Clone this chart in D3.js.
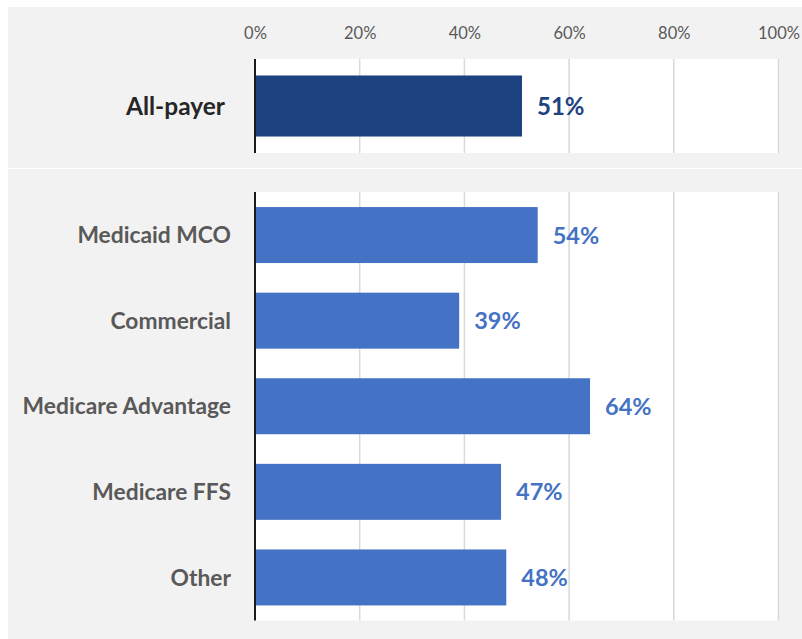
<!DOCTYPE html>
<html><head><meta charset="utf-8">
<script src="https://cdn.jsdelivr.net/npm/d3@7"></script>
<style>
html,body{margin:0;padding:0;background:#fff;}
svg{display:block;font-family:Lato,"Open Sans",sans-serif;}
</style></head>
<body>
<svg id="chart" width="802" height="639"></svg>
<script>
const topCategories = ["All-payer"];
const topValues = [51];
const categories = ["Medicaid MCO","Commercial","Medicare Advantage","Medicare FFS","Other"];
const values = [54,39,64,47,48];
const tickValues = [0,20,40,60,80,100];
const tickLabels = ["0%","20%","40%","60%","80%","100%"];

const svg = d3.select("#chart");
const W = 802, H = 639;

// panels
svg.append("rect").attr("x",8).attr("y",7).attr("width",W-8).attr("height",161).attr("fill","#f2f2f2");
svg.append("rect").attr("x",8).attr("y",169).attr("width",W-8).attr("height",H-169).attr("fill","#f2f2f2");

const x = d3.scaleLinear().domain([0,100]).range([255,778.5]);

function panel(cats, vals, y0, y1, pi, po, barColor, labelColor, catColor, catOffset, catSize, valSize) {
  const g = svg.append("g");
  g.append("rect").attr("x",x(0)).attr("y",y0).attr("width",x(100)-x(0)+1).attr("height",y1-y0).attr("fill","#fff");
  const y = d3.scaleBand().domain(cats).range([y0,y1]).paddingInner(pi).paddingOuter(po);
  g.selectAll("line.grid").data(tickValues.slice(1)).join("line")
    .attr("x1",d=>x(d)).attr("x2",d=>x(d)).attr("y1",y0).attr("y2",y1)
    .attr("stroke","#d9d9d9").attr("stroke-width",1.5);
  g.selectAll("rect.bar").data(vals).join("rect")
    .attr("x",x(0)).attr("y",(d,i)=>y(cats[i])).attr("width",d=>x(d)-x(0)).attr("height",y.bandwidth())
    .attr("fill",barColor);
  g.append("line").attr("x1",x(0)).attr("x2",x(0)).attr("y1",y0).attr("y2",y1)
    .attr("stroke","#1a1a1a").attr("stroke-width",2);
  g.selectAll("text.val").data(vals).join("text")
    .attr("x",d=>x(d)+15).attr("y",(d,i)=>y(cats[i])+y.bandwidth()/2)
    .attr("dy","0.36em").attr("font-size",valSize).attr("font-weight","bold")
    .attr("fill",labelColor).text(d=>d+"%");
  g.selectAll("text.cat").data(cats).join("text")
    .attr("x",x(0)-catOffset).attr("y",d=>y(d)+y.bandwidth()/2)
    .attr("dy","0.36em").attr("text-anchor","end").attr("font-size",catSize).attr("font-weight","bold")
    .attr("fill",catColor).text(d=>d);
}

panel(topCategories, topValues, 59, 153, 0, 0.27, "#1c4380", "#1c4380", "#262626", 30, 24.5, 24);
panel(categories, values, 192, 620.5, 0.346, 0.176, "#4472c4", "#4472c4", "#595959", 24, 22.8, 23.5);

const axis = d3.axisTop(x).tickValues(tickValues).tickFormat((d,i)=>tickLabels[i]).tickSize(0).tickPadding(0);
const ga = svg.append("g").attr("transform","translate(0,39)").call(axis);
ga.select(".domain").remove();
ga.selectAll("text").attr("font-size",16.5).attr("fill","#595959").attr("font-family","Lato,'Open Sans',sans-serif").attr("dy",0);
</script>
</body></html>
